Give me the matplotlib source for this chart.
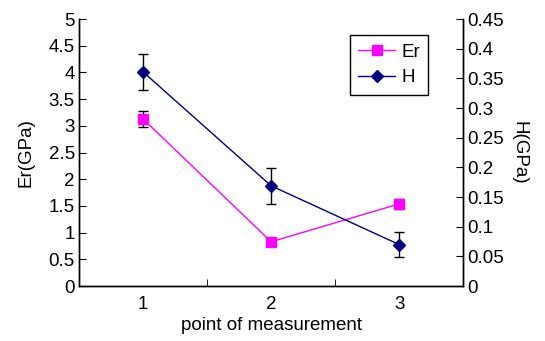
import matplotlib
matplotlib.use("Agg")
import matplotlib.pyplot as plt
from matplotlib.ticker import MultipleLocator

plt.rcParams.update({
    "font.family": ["Liberation Sans", "DejaVu Sans"],
    "font.size": 13.5,
})

points = [1, 2, 3]
er_vals = [3.13, 0.83, 1.54]
er_err = [0.15, 0.07, 0.09]
h_vals = [0.361, 0.169, 0.070]
h_err = [0.031, 0.030, 0.021]

fig = plt.figure(figsize=(5.45, 3.41), dpi=100)
ax = fig.add_axes([0.145, 0.161, 0.705, 0.783])
ax2 = ax.twinx()

l1, = ax.plot(points, er_vals, color="#FF00FF", marker="s", markersize=7,
              linewidth=1.0, label="Er", zorder=3)
ax.errorbar(points, er_vals, yerr=er_err, fmt="none", ecolor="black",
            elinewidth=1.0, capsize=3.5, capthick=1.0, zorder=2)

l2, = ax2.plot(points, h_vals, color="#000080", marker="D", markersize=6,
               linewidth=1.0, label="H", zorder=3)
ax2.errorbar(points, h_vals, yerr=h_err, fmt="none", ecolor="black",
             elinewidth=1.0, capsize=3.5, capthick=1.0, zorder=2)

ax.set_xlim(0.5, 3.5)
ax.set_ylim(0, 5)
ax2.set_ylim(0, 0.45)
ax.yaxis.set_major_locator(MultipleLocator(0.5))
ax2.yaxis.set_major_locator(MultipleLocator(0.05))
ax.set_yticklabels([f"{v:g}" for v in ax.get_yticks()])
ax2.set_yticklabels([f"{v:g}" for v in ax2.get_yticks()])

ax.set_xticks(points)
ax.set_xticks([1.5, 2.5], minor=True)
ax.tick_params(axis="x", which="major", length=0, pad=7)
ax.tick_params(axis="x", which="minor", direction="in", length=5)
ax.tick_params(axis="y", direction="in", length=5, pad=3)
ax2.tick_params(axis="y", direction="in", length=5, pad=3)

for a in (ax, ax2):
    a.spines["top"].set_visible(False)
    for s in ("left", "right", "bottom"):
        a.spines[s].set_linewidth(1.0)

ax.set_xlabel("point of measurement", labelpad=3)
ax.set_ylabel("Er(GPa)", labelpad=10)
ax2.set_ylabel("H(GPa)", rotation=270, labelpad=17)

leg = ax.legend(handles=[l1, l2], loc="upper right",
                bbox_to_anchor=(0.909, 0.940), fancybox=False,
                edgecolor="black", framealpha=1, fontsize=13.5,
                handlelength=2.0, handletextpad=0.3, borderpad=0.45,
                labelspacing=0.45, borderaxespad=0)
leg.get_frame().set_linewidth(1.0)
leg.set_zorder(10)

fig.savefig("out.png", dpi=100)
